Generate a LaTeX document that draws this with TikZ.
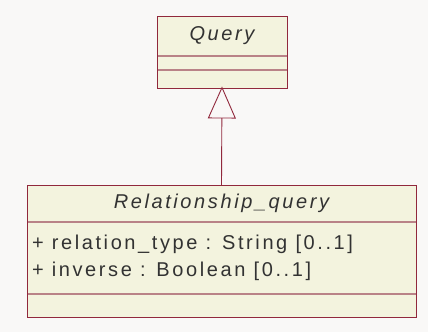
\documentclass[tikz,border=0pt]{standalone}
\usepackage{fontspec}
\setmainfont{Liberation Sans}
\newfontfamily\umlfont[LetterSpace=13]{Liberation Sans}
\usetikzlibrary{arrows.meta,fit}
\definecolor{bgc}{RGB}{249,248,247}
\definecolor{boxfill}{RGB}{243,243,222}
\definecolor{border}{RGB}{145,40,60}
\definecolor{sepc}{RGB}{185,130,135}
\definecolor{txt}{RGB}{50,50,50}
\tikzset{
  comp/.style={fill=boxfill, draw=none, inner sep=0pt, outer sep=0pt, font=\umlfont\fontsize{20}{24}\selectfont, text=txt},
  outline/.style={draw=border, line width=0.9pt, inner sep=0pt},
  sepline/.style={draw=sepc, line width=1.2pt},
  gen/.style={draw=border, line width=0.9pt, -{Triangle[open, width=28pt, length=32pt, line width=0.9pt]}}
}
\begin{document}
\begin{tikzpicture}[x=1pt,y=-1pt]
\useasboundingbox[fill=bgc] (0,0) rectangle (428,332);
% Query
\node[comp, minimum width=130pt, minimum height=40pt] (qn) at (222,36) {\itshape Query};
\node[comp, minimum width=130pt, minimum height=14pt] (qa) at (222,63) {};
\node[comp, minimum width=130pt, minimum height=18pt] (qo) at (222,79) {};
\draw[sepline] (qn.south west) -- (qn.south east);
\draw[sepline] (qa.south west) -- (qa.south east);
\node[outline, fit=(qn)(qo)] (q) {};
% Relationship_query
\node[comp, minimum width=389pt, minimum height=37pt] (rn) at (221.5,203.5) {\itshape Relationship\_query};
\node[comp, minimum width=389pt, minimum height=72pt] (ra) at (221.5,258) {};
\node[comp, minimum width=389pt, minimum height=23pt] (ro) at (221.5,305.5) {};
\node[comp, anchor=west, align=left, inner sep=0pt, font=\umlfont\fontsize{20}{27}\selectfont] (rat) at (32,258) {+ relation\_type : String [0..1]\\+ inverse : Boolean [0..1]};
\draw[sepline] (rn.south west) -- (rn.south east);
\draw[sepline] (ra.south west) -- (ra.south east);
\node[outline, fit=(rn)(ro)] (r) {};
% generalization
\draw[gen] (rn.north) -- ([yshift=2pt]q.south);
\end{tikzpicture}
\end{document}
